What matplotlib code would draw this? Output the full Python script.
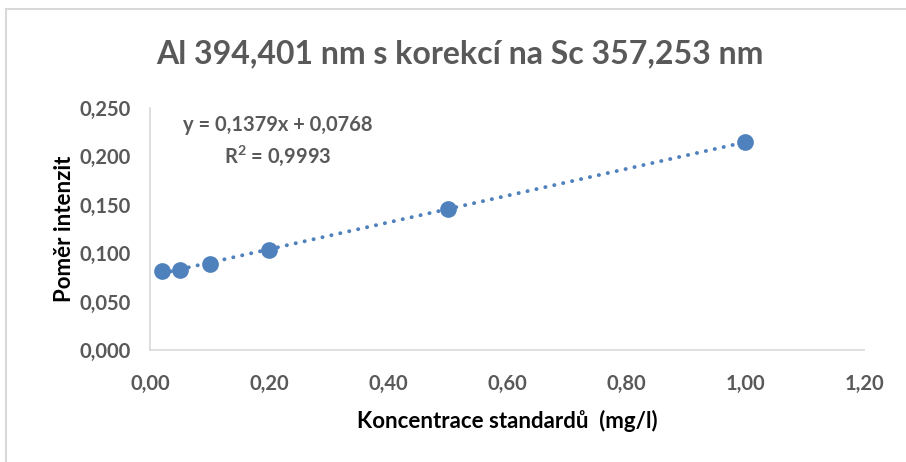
import numpy as np
import matplotlib
matplotlib.use("Agg")
import matplotlib.pyplot as plt
from matplotlib.lines import Line2D

conc = [0.02, 0.05, 0.10, 0.20, 0.50, 1.00]
ratio = [0.0815, 0.0830, 0.0890, 0.1030, 0.1455, 0.2150]
xticks = [0.0, 0.2, 0.4, 0.6, 0.8, 1.0, 1.2]
yticks = [0.0, 0.05, 0.10, 0.15, 0.20, 0.25]
title = "Al 394,401 nm s korekcí na Sc 357,253 nm"
xlabel = "Koncentrace standardů  (mg/l)"
ylabel = "Poměr intenzit"
eq_text = "y = 0,1379x + 0,0768\nR$^\\mathbf{2}$ = 0,9993"

plt.rcParams['font.family'] = ['Lato', 'DejaVu Sans']
plt.rcParams['mathtext.fontset'] = 'custom'
plt.rcParams['mathtext.bf'] = 'Lato:bold'
plt.rcParams['mathtext.rm'] = 'Lato'

fig = plt.figure(figsize=(9.06, 4.62), dpi=100)
ax = fig.add_axes([150/906, (462-350)/462, (864-150)/906, (350-108)/462])

# outer frame lines (top and left visible)
fig.add_artist(Line2D([6/906, 1.0], [1-9/462, 1-9/462], transform=fig.transFigure, color='#d9d9d9', lw=1.5))
fig.add_artist(Line2D([6/906, 6/906], [0, 1-9/462], transform=fig.transFigure, color='#d9d9d9', lw=1.5))

blue = '#4f81bd'
x = np.array(conc); y = np.array(ratio)
k, q = np.polyfit(x, y, 1)
xs = np.array([x.min(), x.max()])
ax.plot(xs, k*xs + q, linestyle=(0, (0.05, 2.3)), color=blue, lw=2.8, dash_capstyle='round', zorder=2)
ax.scatter(x, y, s=145, color=blue, zorder=3, linewidths=0)

ax.set_xlim(0, 1.2)
ax.set_ylim(0, 0.25)
ax.set_xticks(xticks)
ax.set_yticks(yticks)
ax.set_xticklabels([f"{v:.2f}".replace('.', ',') for v in xticks])
ax.set_yticklabels([f"{v:.3f}".replace('.', ',') for v in yticks])
ax.tick_params(length=0, labelsize=14.5, colors='#595959')
ax.tick_params(axis='y', pad=14)
ax.tick_params(axis='x', pad=17)
for lab in ax.get_xticklabels() + ax.get_yticklabels():
    lab.set_fontweight('bold')
for s in ['top', 'right']:
    ax.spines[s].set_visible(False)
for s in ['left', 'bottom']:
    ax.spines[s].set_color('#d9d9d9')
    ax.spines[s].set_linewidth(1.2)

ax.set_xlabel(xlabel, fontsize=16, fontweight='bold', color='black', labelpad=12)
ax.set_ylabel(ylabel, fontsize=16, fontweight='bold', color='black', labelpad=3)
fig.text(460/906, 1-54/462, title, ha='center', va='center', fontsize=23, fontweight='bold', color='#595959')
ax.text(0.215, 0.215, eq_text, ha='center', va='center', fontsize=14.5, fontweight='bold', color='#595959', linespacing=1.45)

fig.savefig("out.png", dpi=100)
